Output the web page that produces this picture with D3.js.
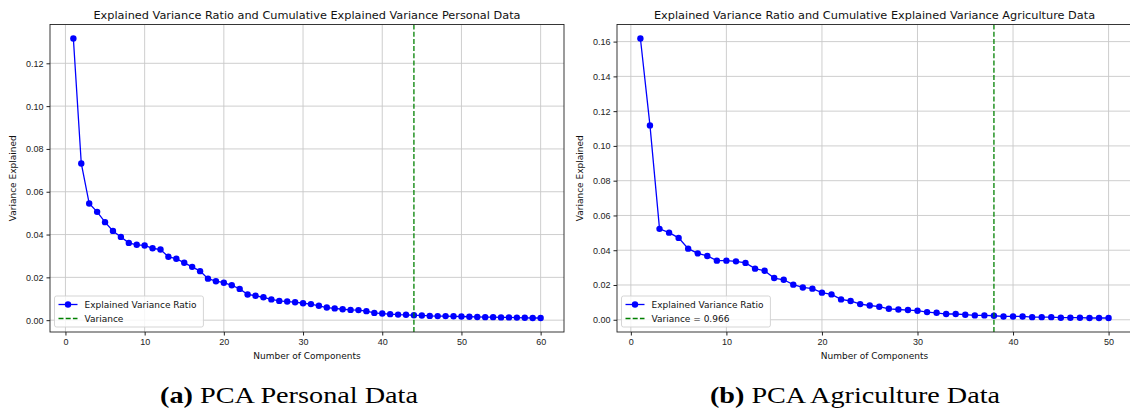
<!DOCTYPE html>
<html>
<head>
<meta charset="utf-8">
<script src="https://cdn.jsdelivr.net/npm/d3@7"></script>
<style>
  body { margin: 0; background: #fff; }
  svg { display: block; font-family: "DejaVu Sans", sans-serif; }
  .grid line { stroke: #c8c8c8; stroke-width: 0.9; }
  .axis path, .axis line { stroke: #222; }
  .axis text { fill: #222; font-size: 9px; }
</style>
</head>
<body>
<svg id="chart" width="1130" height="410"></svg>
<script>
// explained variance ratio per component
const personalRatio = [
  0.1316, 0.0732, 0.0545, 0.0506, 0.0458, 0.0417, 0.0389, 0.0361, 0.0352, 0.0349,
  0.0336, 0.0330, 0.0296, 0.0287, 0.0268, 0.0249, 0.0229, 0.0194, 0.0182, 0.0175,
  0.0163, 0.0146, 0.0120, 0.0114, 0.0107, 0.0097, 0.0090, 0.0087, 0.0084, 0.0079,
  0.0075, 0.0067, 0.0059, 0.0055, 0.0051, 0.0048, 0.0047, 0.0042, 0.0034, 0.0031,
  0.0028, 0.0026, 0.0025, 0.0023, 0.0022, 0.0020, 0.0019, 0.0019, 0.0018, 0.0017,
  0.0016, 0.0015, 0.0014, 0.0014, 0.0013, 0.0013, 0.0012, 0.0011, 0.0010, 0.0010
]
const agricultureRatio = [
  0.1618, 0.1118, 0.0523, 0.0501, 0.0471, 0.0409, 0.0382, 0.0367, 0.0340, 0.0340,
  0.0336, 0.0327, 0.0294, 0.0282, 0.0240, 0.0230, 0.0202, 0.0186, 0.0179, 0.0156,
  0.0146, 0.0117, 0.0108, 0.0090, 0.0082, 0.0075, 0.0063, 0.0059, 0.0056, 0.0052,
  0.0044, 0.0040, 0.0033, 0.0033, 0.0029, 0.0025, 0.0025, 0.0023, 0.0019, 0.0019,
  0.0019, 0.0015, 0.0015, 0.0015, 0.0012, 0.0012, 0.0012, 0.0010, 0.0010, 0.0010
]
const personalCutoff = 44
const agricultureCutoff = 38
const xTicksPersonal = [0, 10, 20, 30, 40, 50, 60]
const xTicksAgriculture = [0, 10, 20, 30, 40, 50]
const yTicksPersonal = [0, 0.02, 0.04, 0.06, 0.08, 0.10, 0.12]
const yTicksAgriculture = [0, 0.02, 0.04, 0.06, 0.08, 0.10, 0.12, 0.14, 0.16]
const titles = [
  'Explained Variance Ratio and Cumulative Explained Variance Personal Data',
  'Explained Variance Ratio and Cumulative Explained Variance Agriculture Data'
]
const legendLabels = [
  ['Explained Variance Ratio', 'Variance'],
  ['Explained Variance Ratio', 'Variance = 0.966']
]
const captions = [['(a)', ' PCA Personal Data'], ['(b)', ' PCA Agriculture Data']]

const svg = d3.select('#chart')

const panels = [
  {values: personalRatio, cutoff: personalCutoff, xTicks: xTicksPersonal, yTicks: yTicksPersonal,
   left: 50, right: 564, ylabX: 13, captionX: 289, captionW: 258},
  {values: agricultureRatio, cutoff: agricultureCutoff, xTicks: xTicksAgriculture, yTicks: yTicksAgriculture,
   left: 617, right: 1132, ylabX: 580, captionX: 855, captionW: 290}
]
const plotTop = 24.5, plotBottom = 332

function pad(lo, hi) {
  const m = (hi - lo) * 0.05
  return [lo - m, hi + m]
}

panels.forEach((p, i) => {
  const pts = p.values.map((v, k) => ({c: k + 1, v: v}))
  const x = d3.scaleLinear().domain(pad(1, pts.length)).range([p.left, p.right])
  const y = d3.scaleLinear().domain(pad(d3.min(p.values), d3.max(p.values))).range([plotBottom, plotTop])

  const g = svg.append('g')

  // clip so nothing leaks past the axes box
  svg.append('clipPath').attr('id', 'clip' + i)
    .append('rect').attr('x', p.left).attr('y', plotTop)
    .attr('width', p.right - p.left).attr('height', plotBottom - plotTop)

  // grid
  const grid = g.append('g').attr('class', 'grid').attr('clip-path', `url(#clip${i})`)
  grid.selectAll('.gx').data(p.xTicks).join('line')
    .attr('x1', d => x(d)).attr('x2', d => x(d)).attr('y1', plotTop).attr('y2', plotBottom)
  grid.selectAll('.gy').data(p.yTicks).join('line')
    .attr('y1', d => y(d)).attr('y2', d => y(d)).attr('x1', p.left).attr('x2', p.right)

  // main series
  const line = d3.line().x(d => x(d.c)).y(d => y(d.v))
  const plot = g.append('g').attr('clip-path', `url(#clip${i})`)
  plot.append('path').datum(pts)
    .attr('d', line).attr('fill', 'none').attr('stroke', '#0000ff').attr('stroke-width', 1.3)
  plot.selectAll('circle').data(pts).join('circle')
    .attr('cx', d => x(d.c)).attr('cy', d => y(d.v)).attr('r', 3.2).attr('fill', '#0000ff')

  // cutoff line
  plot.append('line')
    .attr('x1', x(p.cutoff)).attr('x2', x(p.cutoff)).attr('y1', plotTop).attr('y2', plotBottom)
    .attr('stroke', '#008000').attr('stroke-width', 1.3).attr('stroke-dasharray', '5,2.2')

  // axes
  g.append('g').attr('class', 'axis')
    .attr('transform', `translate(0,${plotBottom})`)
    .call(d3.axisBottom(x).tickValues(p.xTicks).tickSize(3.5).tickPadding(3).tickFormat(d3.format('d')))
    .call(a => a.select('.domain').remove())
  g.append('g').attr('class', 'axis')
    .attr('transform', `translate(${p.left},0)`)
    .call(d3.axisLeft(y).tickValues(p.yTicks).tickSize(3.5).tickPadding(3).tickFormat(d3.format('.2f')))
    .call(a => a.select('.domain').remove())

  g.append('rect')
    .attr('x', p.left).attr('y', plotTop).attr('width', p.right - p.left).attr('height', plotBottom - plotTop)
    .attr('fill', 'none').attr('stroke', '#222').attr('stroke-width', 0.9)

  // titles and labels
  g.append('text')
    .attr('x', (p.left + p.right) / 2).attr('y', 19)
    .attr('text-anchor', 'middle').style('font-size', '11.3px').attr('fill', '#111')
    .text(titles[i])
  g.append('text')
    .attr('x', (p.left + p.right) / 2).attr('y', 359)
    .attr('text-anchor', 'middle').style('font-size', '9px').attr('fill', '#111')
    .text('Number of Components')
  g.append('text')
    .attr('transform', `translate(${p.ylabX + 3},${(plotTop + plotBottom) / 2}) rotate(-90)`)
    .attr('text-anchor', 'middle').style('font-size', '9px').attr('fill', '#111')
    .text('Variance Explained')

  // legend
  const lx = p.left + 4.5, ly = 296
  const lg = g.append('g')
  const lines = legendLabels[i]
  const texts = lg.selectAll('text').data(lines).join('text')
    .attr('x', lx + 30).attr('y', (d, k) => ly + 11.5 + k * 14)
    .style('font-size', '9px').attr('fill', '#111').text(d => d)
  const w = d3.max(texts.nodes(), n => n.getComputedTextLength()) + 37
  lg.insert('rect', 'text')
    .attr('x', lx).attr('y', ly).attr('width', w).attr('height', 31).attr('rx', 2)
    .attr('fill', 'white').attr('fill-opacity', 0.8).attr('stroke', '#d0d0d0').attr('stroke-width', 0.9)
  lg.append('line')
    .attr('x1', lx + 4).attr('x2', lx + 23).attr('y1', ly + 8.5).attr('y2', ly + 8.5)
    .attr('stroke', '#0000ff').attr('stroke-width', 1.3)
  lg.append('circle').attr('cx', lx + 13.5).attr('cy', ly + 8.5).attr('r', 3.2).attr('fill', '#0000ff')
  lg.append('line')
    .attr('x1', lx + 4).attr('x2', lx + 23).attr('y1', ly + 22.5).attr('y2', ly + 22.5)
    .attr('stroke', '#008000').attr('stroke-width', 1.3).attr('stroke-dasharray', '5,2.2')

  // caption under the panel
  const cap = svg.append('text')
    .attr('x', p.captionX).attr('y', 403).attr('text-anchor', 'middle')
    .attr('textLength', p.captionW).attr('lengthAdjust', 'spacingAndGlyphs')
    .style('font-family', '"Liberation Serif", "DejaVu Serif", serif').style('font-size', '24px').attr('fill', '#000')
  cap.append('tspan').style('font-weight', 'bold').text(captions[i][0])
  cap.append('tspan').text(captions[i][1])
})
</script>
</body>
</html>
